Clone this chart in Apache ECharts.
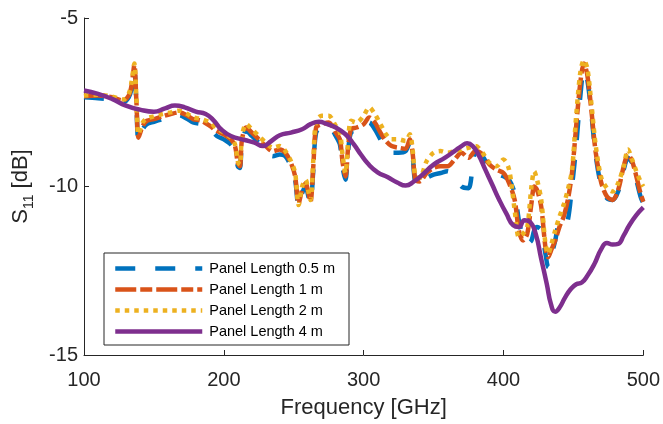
<!DOCTYPE html>
<html>
<head>
<meta charset="utf-8">
<script src="https://cdn.jsdelivr.net/npm/echarts@6/dist/echarts.min.js"></script>
<style>html,body{margin:0;padding:0;background:#fff}#c{width:663px;height:424px}</style>
</head>
<body>
<div id="c"></div>
<script>
// Shared frequency grid (GHz) for the 0.5 m, 1 m and 2 m panels
const freqA = [100,110,120,128,132,134,136,137.5,139,142,145,150,156,162,168,174,178,184,190,195,200,205,208,210,211.5,213,216,220,225,230,235,240,244,248,251,253.5,256,258.5,260.5,262,264,266,270,275,280,283,285,287,289,291,295,300,304,308,312,316,320,325,330,333,335,337,340,345,350,355,360,365,370,375,380,385,390,395,400,404,408,411,414,417,420,422,424,427,430,432,434,437,440,443,446,449,452,455,457.5,460,463,466,470,474,478,482,486,489,492,495,498,500];
const s11_05m = [-7.35,-7.38,-7.42,-7.50,-7.35,-7.10,-6.55,-7.60,-8.65,-8.30,-8.15,-8.08,-8.00,-7.92,-7.88,-8.00,-8.10,-8.15,-8.30,-8.50,-8.60,-8.75,-8.95,-9.40,-9.45,-8.70,-8.35,-8.50,-8.70,-8.95,-9.10,-9.05,-9.10,-9.40,-9.80,-10.60,-10.20,-10.00,-10.30,-10.50,-9.50,-8.40,-8.25,-8.20,-8.50,-8.75,-9.45,-9.80,-8.90,-8.40,-8.35,-8.30,-8.10,-8.30,-8.60,-8.90,-9.00,-9.00,-8.95,-8.70,-9.10,-9.90,-9.95,-9.75,-9.65,-9.60,-9.55,-9.70,-10.00,-10.05,-9.00,-9.10,-9.45,-9.60,-9.70,-9.80,-10.20,-11.00,-11.50,-11.70,-11.60,-11.30,-11.20,-11.30,-12.00,-12.40,-12.10,-11.60,-11.10,-11.20,-11.00,-10.00,-8.80,-7.30,-6.55,-6.85,-7.90,-9.10,-10.00,-10.35,-10.40,-10.15,-9.50,-9.15,-9.30,-9.80,-10.30,-10.50];
const s11_1m = [-7.32,-7.30,-7.35,-7.45,-7.30,-7.00,-6.40,-7.50,-8.55,-8.20,-8.05,-8.00,-7.92,-7.85,-7.80,-7.90,-8.00,-8.05,-8.20,-8.35,-8.45,-8.60,-8.80,-9.30,-9.40,-8.60,-8.25,-8.40,-8.60,-8.80,-8.95,-8.90,-9.00,-9.30,-9.70,-10.50,-10.10,-9.90,-10.20,-10.45,-9.40,-8.25,-8.15,-8.10,-8.40,-8.60,-9.30,-9.70,-8.80,-8.30,-8.25,-8.15,-7.95,-8.10,-8.40,-8.65,-8.80,-8.85,-8.88,-8.60,-9.00,-9.80,-9.85,-9.60,-9.45,-9.40,-9.40,-9.20,-9.00,-9.15,-8.95,-9.05,-9.35,-9.50,-9.60,-9.90,-10.40,-11.30,-11.60,-11.40,-10.50,-10.00,-10.10,-10.60,-11.80,-12.10,-11.90,-11.60,-11.20,-10.90,-10.40,-9.60,-8.20,-6.90,-6.35,-6.70,-7.80,-9.00,-9.90,-10.30,-10.40,-10.10,-9.40,-9.05,-9.25,-9.70,-10.20,-10.45];
const s11_2m = [-7.30,-7.28,-7.33,-7.42,-7.25,-6.90,-6.35,-7.40,-8.45,-8.10,-7.98,-7.92,-7.85,-7.80,-7.75,-7.85,-7.95,-8.00,-8.10,-8.28,-8.40,-8.55,-8.75,-9.25,-9.35,-8.50,-8.15,-8.30,-8.50,-8.70,-8.85,-8.80,-8.95,-9.25,-9.60,-10.55,-10.00,-9.80,-10.15,-10.40,-9.20,-8.05,-7.90,-7.90,-8.20,-8.40,-9.10,-9.60,-8.60,-8.05,-8.10,-7.90,-7.65,-7.85,-8.15,-8.45,-8.60,-8.60,-8.65,-8.45,-8.90,-9.70,-9.75,-9.25,-9.00,-8.95,-9.00,-8.95,-8.90,-8.85,-8.80,-9.00,-9.30,-9.40,-9.20,-9.50,-10.70,-11.50,-11.40,-11.20,-10.00,-9.55,-9.80,-10.40,-11.70,-12.00,-11.75,-11.30,-10.90,-10.55,-10.10,-9.50,-7.90,-6.60,-6.25,-6.50,-7.60,-8.80,-9.75,-10.05,-10.15,-9.90,-9.40,-8.90,-9.20,-9.55,-9.85,-10.00];
// 4 m panel (smooth curve)
const freqB = [100,110,120,130,140,150,158,165,172,180,187,193,198,205,215,222,228,234,240,248,256,262,268,274,280,287,293,298,303,310,317,324,330,336,342,350,358,365,370,374,378,382,387,392,397,402,407,411,415,419,423,427,431,434,437,440,444,448,452,456,460,465,470,474,478,482,486,490,495,500];
const s11_4m = [-7.15,-7.25,-7.40,-7.60,-7.72,-7.78,-7.68,-7.60,-7.65,-7.78,-7.85,-8.05,-8.30,-8.50,-8.62,-8.70,-8.80,-8.65,-8.48,-8.40,-8.30,-8.15,-8.08,-8.15,-8.25,-8.45,-8.75,-9.05,-9.32,-9.58,-9.72,-9.88,-9.97,-9.85,-9.65,-9.35,-9.15,-8.95,-8.80,-8.72,-8.80,-9.05,-9.50,-9.95,-10.40,-10.80,-11.15,-11.20,-11.00,-11.05,-11.40,-12.15,-12.90,-13.50,-13.72,-13.60,-13.30,-13.05,-12.90,-12.85,-12.65,-12.30,-11.85,-11.68,-11.72,-11.70,-11.45,-11.15,-10.85,-10.62];
const seriesNames = ['Panel Length 0.5 m','Panel Length 1 m','Panel Length 2 m','Panel Length 4 m'];
const xTicks = [100,200,300,400,500];
const yTicks = [-15,-10,-5];

const zip = (xs, ys) => xs.map((x, i) => [x, ys[i]]);
const FONT = "'Liberation Sans', Arial, Helvetica, sans-serif";
const TXT = '#262626';
const LW = 4.5;

const chart = echarts.init(document.getElementById('c'), null, {renderer: 'canvas'});
chart.setOption({
  animation: false,
  backgroundColor: '#fff',
  grid: {left: 84, right: 16, top: 18, bottom: 67, containLabel: false},
  xAxis: {
    type: 'value', min: xTicks[0], max: xTicks[xTicks.length-1], interval: 100,
    name: 'Frequency [GHz]', nameLocation: 'middle', nameGap: 42,
    nameTextStyle: {fontFamily: FONT, fontSize: 22, color: TXT},
    axisLine: {show: true, onZero: false, lineStyle: {color: TXT, width: 1}},
    axisTick: {show: true, inside: true, length: 5, lineStyle: {color: TXT}},
    axisLabel: {fontFamily: FONT, fontSize: 20, color: TXT, margin: 15},
    splitLine: {show: false}
  },
  yAxis: {
    type: 'value', min: yTicks[0], max: yTicks[yTicks.length-1], interval: 5,
    name: '{a|S}{b|11}{a| [dB]}', nameLocation: 'middle', nameGap: 48,
    nameTextStyle: {fontFamily: FONT, color: TXT,
      rich: {
        a: {fontFamily: FONT, fontSize: 22, color: TXT, lineHeight: 30, verticalAlign: 'middle'},
        b: {fontFamily: FONT, fontSize: 14, color: TXT, lineHeight: 12, verticalAlign: 'bottom'}
      }},
    axisLine: {show: true, onZero: false, lineStyle: {color: TXT, width: 1}},
    axisTick: {show: true, inside: true, length: 5, lineStyle: {color: TXT}},
    axisLabel: {fontFamily: FONT, fontSize: 20, color: TXT, margin: 6},
    splitLine: {show: false}
  },
  legend: {
    orient: 'vertical', left: 104, top: 253,
    padding: [8, 14, 6, 9], itemGap: 6, itemWidth: 87, itemHeight: 14,
    borderColor: TXT, borderWidth: 1, backgroundColor: '#fff', borderRadius: 0,
    itemStyle: {opacity: 0, color: 'transparent', borderWidth: 0},
    lineStyle: {width: LW},
    textStyle: {fontFamily: FONT, fontSize: 14.5, color: '#000', padding: [0,0,0,2]},
    data: seriesNames
  },
  series: [
    {name: seriesNames[0], type: 'line', data: zip(freqA, s11_05m), showSymbol: false, symbol: 'none', smooth: 0.3,
     lineStyle: {color: '#0072BD', width: LW, type: [20, 20]}, itemStyle: {color: '#0072BD'}, z: 2},
    {name: seriesNames[1], type: 'line', data: zip(freqA, s11_1m), showSymbol: false, symbol: 'none', smooth: 0.3,
     lineStyle: {color: '#D95319', width: LW, type: [21, 4, 12, 4]}, itemStyle: {color: '#D95319'}, z: 3},
    {name: seriesNames[2], type: 'line', data: zip(freqA, s11_2m), showSymbol: false, symbol: 'none', smooth: 0.3,
     lineStyle: {color: '#EDB120', width: LW, type: [4.5, 5]}, itemStyle: {color: '#EDB120'}, z: 4},
    {name: seriesNames[3], type: 'line', data: zip(freqB, s11_4m), showSymbol: false, symbol: 'none', smooth: 0.5,
     lineStyle: {color: '#7E2F8E', width: LW, type: 'solid'}, itemStyle: {color: '#7E2F8E'}, z: 5}
  ]
});
</script>
</body>
</html>
